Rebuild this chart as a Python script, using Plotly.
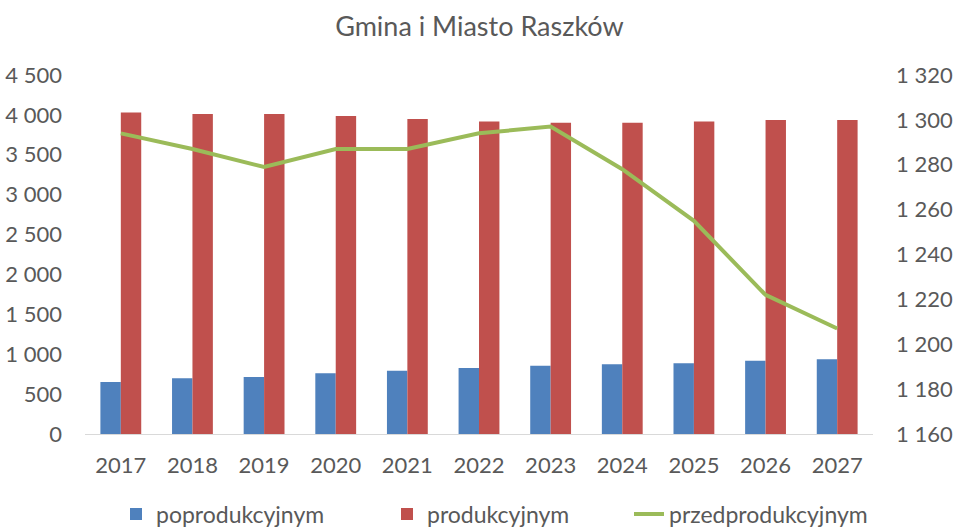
import plotly.graph_objects as go

years = ["2017", "2018", "2019", "2020", "2021", "2022", "2023", "2024", "2025", "2026", "2027"]
poprodukcyjnym = [652, 698, 714, 760, 793, 827, 856, 873, 886, 919, 936]
produkcyjnym = [4031, 4010, 4010, 3985, 3947, 3918, 3902, 3902, 3918, 3935, 3935]
przedprodukcyjnym = [1294, 1287, 1279, 1287, 1287, 1294, 1297, 1278, 1255, 1222, 1207]

title_text = "Gmina i Miasto Raszków"
FONT = "Lato"
GRAY = "#595959"

fig = go.Figure()
fig.add_trace(go.Bar(x=years, y=poprodukcyjnym, name="poprodukcyjnym",
                     marker=dict(color="#4F81BD", line=dict(width=0)),
                     legendwidth=226))
fig.add_trace(go.Bar(x=years, y=produkcyjnym, name="produkcyjnym",
                     marker=dict(color="#C0504D", line=dict(width=0)),
                     legendwidth=197))
fig.add_trace(go.Scatter(x=years, y=przedprodukcyjnym, name="przedprodukcyjnym",
                         mode="lines", line=dict(color="#9BBB59", width=4),
                         yaxis="y2", legendwidth=200))

fig.update_layout(
    width=955, height=529,
    margin=dict(l=85, r=82, t=75, b=95, autoexpand=False),
    paper_bgcolor="white", plot_bgcolor="white",
    separators=", ",
    font=dict(family=FONT, color=GRAY, size=22),
    title=dict(text=title_text, x=0.502, xanchor="center", y=0.949, yanchor="middle",
               font=dict(family=FONT, size=27, color=GRAY)),
    barmode="group", bargap=0.43, bargroupgap=0,
    showlegend=True,
    legend=dict(orientation="h", x=(116 - 85) / 788, xanchor="left",
                y=-0.223, yanchor="middle",
                font=dict(family=FONT, size=23, color=GRAY),
                itemwidth=30, traceorder="normal"),
    xaxis=dict(showline=True, linecolor="#D9D9D9", linewidth=1, showgrid=False,
               automargin=False, ticks="", tickfont=dict(size=22, color=GRAY),
               ticklabelstandoff=12),
    yaxis=dict(range=[0, 4500], dtick=500, tickformat=",d", showgrid=False,
               automargin=False, showline=False, zeroline=False, ticks="",
               tickfont=dict(size=22, color=GRAY), ticklabelstandoff=22),
    yaxis2=dict(range=[1160, 1320], dtick=20, tickformat=",d", overlaying="y",
                side="right", showgrid=False, showline=False, zeroline=False,
                automargin=False, ticks="", tickfont=dict(size=22, color=GRAY),
                ticklabelstandoff=22),
)

fig.write_html(
    "out.html",
    config={"displayModeBar": False},
    post_script="document.body.style.margin='0';document.body.style.padding='0';",
)
